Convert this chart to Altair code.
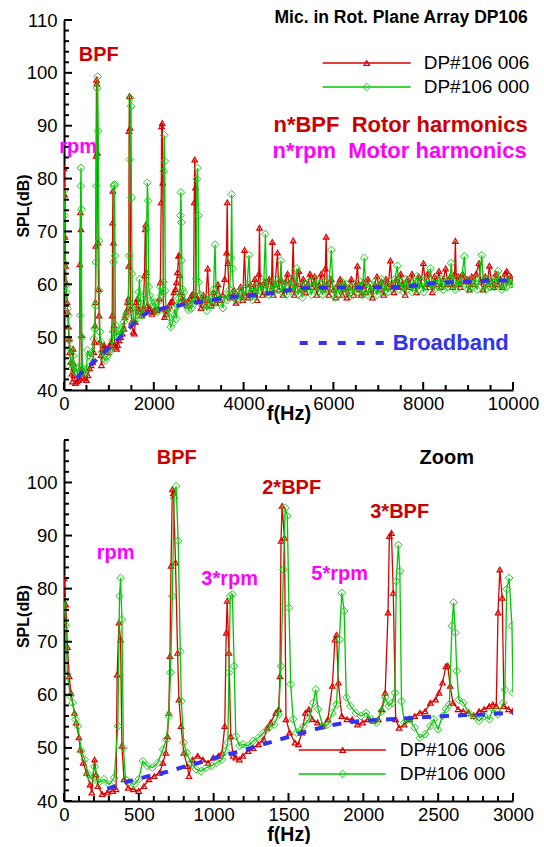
import altair as alt
import pandas as pd

FONT = "Liberation Sans"
RED = "#dd0000"
RED_TXT = "#cc0000"
GREEN = "#00c800"
GREEN_MK = "#22cc22"
MAGENTA = "#ff00ff"
BLUE = "#3333ee"

# ---------------- data: DP#106 006 (red) ----------------
red_f = [0, 12, 23, 35, 46, 70, 81, 100, 109, 128, 151, 174, 186, 204, 215, 227, 255, 290, 325, 348,
         355, 367, 378, 387, 401, 429, 464, 499, 534, 568, 603, 638, 661, 680, 691, 700, 708, 715, 724, 731,
         745, 759, 768, 782, 800, 824, 835, 858, 893, 928, 963, 998, 1032, 1056, 1074, 1084, 1090, 1102, 1114, 1130,
         1148, 1172, 1195, 1230, 1264, 1299, 1334, 1357, 1381, 1415, 1434, 1443, 1450, 1457, 1473, 1483, 1508, 1543, 1566, 1589,
         1613, 1636, 1659, 1694, 1729, 1763, 1793, 1810, 1821, 1833, 1856, 1891, 1926, 1961, 1995, 2030, 2065, 2100, 2123, 2146,
         2165, 2174, 2188, 2200, 2216, 2239, 2274, 2309, 2343, 2378, 2413, 2448, 2483, 2506, 2529, 2552, 2564, 2580, 2599, 2633,
         2668, 2703, 2738, 2773, 2807, 2842, 2865, 2888, 2900, 2912, 2928, 2940, 2970, 3000,
         3050, 3100, 3150, 3200, 3230, 3280, 3330, 3380, 3430, 3480, 3530, 3580, 3620, 3635, 3650, 3680, 3730, 3780, 3830, 3880,
         3930, 3980, 4021, 4050, 4100, 4150, 4200, 4250, 4300, 4340, 4354, 4370, 4420, 4470, 4520, 4570, 4620, 4640, 4660, 4700,
         4756, 4780, 4830, 4880, 4930, 4980, 5030, 5080, 5104, 5130, 5180, 5230, 5280, 5330, 5380, 5430, 5480, 5530, 5580, 5630,
         5680, 5730, 5780, 5820, 5839, 5860, 5900, 5950, 6000, 6050, 6100, 6150, 6200, 6250, 6300, 6350, 6400, 6450, 6500, 6535,
         6570, 6620, 6670, 6720, 6770, 6820, 6870, 6920, 6970, 7020, 7070, 7120, 7170, 7220, 7270, 7300, 7350, 7400, 7450, 7500,
         7550, 7600, 7650, 7700, 7750, 7800, 7850, 7900, 7950, 8005, 8050, 8100, 8150, 8200, 8250, 8300, 8350, 8400, 8450, 8500,
         8550, 8600, 8650, 8700, 8716, 8740, 8780, 8830, 8880, 8930, 8980, 9030, 9080, 9130, 9180, 9242, 9280, 9330, 9380, 9430,
         9474, 9520, 9570, 9620, 9670, 9720, 9770, 9820, 9861, 9900, 9950, 10000]
red_spl = [82, 77, 69, 63.5, 60.4, 56.6, 54.8, 52, 49.7, 47.2, 45.3, 43.1, 41.6, 47.8, 45, 42.8, 41.3, 41.6, 41.9, 42.2,
           63.8, 73.6, 70.4, 50.4, 44.1, 42.5, 42.2, 41.9, 42.8, 44.1, 44.7, 45.3, 47.2, 49.1, 52.2, 56.6, 67.3, 84.3, 98.7, 98,
           84.9, 67.9, 59.1, 54.1, 49.1, 46.6, 44.7, 47.8, 48.5, 47.8, 47.2, 48.2, 48.5, 49.1, 54.1, 71.7, 77.7, 67.9, 52.2, 48.5,
           48.2, 47.8, 48.5, 49.4, 50, 50.7, 51.6, 53.8, 54.8, 56.6, 57.3, 63.5, 89, 95.6, 89.6, 55.4, 52.9, 51, 50.7, 52.9,
           56.6, 57.3, 55.4, 54.8, 54.1, 55.4, 61.7, 70.4, 71.3, 62.3, 56, 55.4, 55.4, 54.4, 54.8, 55.4, 55.1, 55.4, 57.3, 60.4,
           75.5, 89.9, 90.5, 79.2, 55.4, 53.8, 54.4, 55.4, 56, 56.6, 56.9, 58.5, 59.1, 60.4, 62.3, 65.4, 65.5, 61.7, 58.5, 57.3,
           56.9, 56.6, 56, 56.9, 57.3, 57.9, 58.2, 57.9, 75.5, 83.6, 78.3, 57.9, 57.3, 57,
           55.5, 58, 56, 63, 57, 56, 58.5, 56.5, 60, 57, 58, 61, 66, 75.5, 64, 58, 57.5, 59, 56.5, 58,
           59.5, 57, 66.5, 58, 57.5, 60, 58, 61, 57, 62, 70.7, 60, 58, 60.5, 58.5, 61, 59, 68, 58, 60,
           66, 59, 61, 58, 60.5, 62, 59, 61, 68.3, 58, 60, 62.5, 59, 61, 58.5, 60, 62, 59.5, 61.5, 58,
           60, 62, 59, 63, 69, 60, 58, 61, 59, 57.5, 60, 61, 58, 60, 57.5, 59.5, 61, 58, 60, 63.5,
           59, 58, 60.5, 58.5, 61, 59, 57.5, 60, 61.5, 59, 60.5, 58, 61, 59.5, 64.5, 60, 58.5, 61, 59.5, 62,
           60, 58, 61, 59.5, 62, 60, 58.5, 61.5, 60, 64, 59.5, 62, 60, 58.5, 61.5, 60, 62.5, 59.5, 61, 63,
           60, 61.5, 59.5, 62, 68.2, 60, 61.5, 59.5, 62, 60.5, 61, 59, 61.5, 60, 62, 64, 60.5, 59, 61.5, 60,
           63.5, 60.5, 59.5, 62, 60, 61, 59.5, 62, 62.5, 60.5, 61.5, 60.5]

# ---------------- data: DP#106 000 (green) ----------------
green_f = [0, 12, 23, 42, 58, 77, 93, 116, 139, 162, 186, 204, 232, 267, 302, 336, 360, 371, 378, 387,
           397, 411, 434, 469, 499, 527, 557, 592, 626, 661, 684, 700, 712, 724, 735, 749, 763, 777, 784, 800,
           819, 847, 882, 916, 951, 986, 1021, 1056, 1079, 1095, 1102, 1111, 1125, 1137, 1148, 1172, 1195, 1230, 1264, 1299,
           1334, 1369, 1404, 1434, 1450, 1466, 1478, 1492, 1503, 1515, 1531, 1555, 1578, 1601, 1636, 1666, 1682, 1698, 1729, 1763,
           1793, 1821, 1840, 1856, 1872, 1886, 1914, 1949, 1984, 2019, 2053, 2088, 2123, 2146, 2169, 2193, 2211, 2220, 2234, 2244,
           2255, 2274, 2309, 2343, 2378, 2413, 2448, 2471, 2499, 2529, 2552, 2575, 2592, 2603, 2615, 2624, 2638, 2668, 2703, 2738,
           2773, 2807, 2842, 2865, 2900, 2935, 2946, 2958, 2974, 2993, 3000,
           3030, 3080, 3130, 3180, 3230, 3280, 3330, 3364, 3390, 3440, 3490, 3540, 3590, 3640, 3690, 3720, 3735, 3750, 3780, 3830,
           3880, 3930, 3980, 4030, 4080, 4122, 4150, 4200, 4250, 4300, 4350, 4400, 4450, 4486, 4510, 4560, 4610, 4660, 4710, 4760,
           4810, 4834, 4860, 4910, 4960, 5010, 5060, 5110, 5160, 5182, 5210, 5260, 5310, 5360, 5410, 5460, 5510, 5560, 5610, 5660,
           5710, 5760, 5810, 5860, 5910, 5955, 5990, 6040, 6090, 6140, 6190, 6240, 6290, 6340, 6390, 6440, 6490, 6540, 6590, 6640,
           6690, 6720, 6770, 6820, 6870, 6920, 6970, 7020, 7070, 7120, 7170, 7220, 7270, 7320, 7370, 7425, 7460, 7510, 7560, 7610,
           7660, 7710, 7760, 7810, 7860, 7910, 7960, 8010, 8060, 8110, 8159, 8200, 8250, 8300, 8350, 8400, 8450, 8500, 8550, 8600,
           8623, 8660, 8710, 8760, 8810, 8860, 8917, 8950, 9000, 9050, 9100, 9150, 9200, 9250, 9304, 9340, 9390, 9440, 9490, 9540,
           9590, 9640, 9667, 9700, 9750, 9800, 9850, 9900, 9950, 10000]
green_spl = [77.7, 73, 63.9, 59.8, 58.5, 55.4, 54.1, 49.4, 47.8, 45, 44.1, 46.5, 43.5, 44.1, 43.1, 44.4, 54.1, 78.6, 82, 74.2,
             50, 44.1, 43.5, 43.1, 44.1, 47.5, 46.6, 46.3, 47.2, 49.7, 51.6, 56, 64.2, 78.6, 97.1, 99.3, 89, 68.2, 58.8, 51,
             49.1, 47.2, 46, 45.6, 46.3, 46.6, 47.2, 47.8, 49.4, 51, 64.2, 78.6, 78.9, 65.4, 52.2, 50.4, 50.7, 50.4, 51.3, 51.9,
             52.9, 53.8, 54.4, 56.3, 65.4, 83.6, 95.2, 93.7, 76.4, 62, 55.4, 52.9, 53.2, 54.1, 55.4, 58.5, 61, 57.3, 54.1, 54.4,
             56.6, 58.2, 70.4, 79.2, 75.8, 59.5, 57.9, 56.6, 56, 56.6, 55.4, 54.8, 56.9, 59.5, 57.9, 58.5, 60.4, 81.4, 88.2, 83.3,
             58.8, 54.8, 55.4, 53.8, 51.9, 52.6, 54.1, 55.4, 53.5, 56, 57.3, 58.2, 73, 77.4, 71.7, 64.5, 59.1, 58.5, 56.6, 56,
             55.1, 56, 55.4, 57.3, 56.3, 58.5, 61, 79.9, 82, 73, 60.4,
             58, 56, 57.5, 55, 58, 56, 59, 67.5, 58, 56.5, 57.5, 55.5, 58, 57, 59, 65, 77, 63, 58, 57,
             58.5, 57, 59, 58, 60, 65.5, 58.5, 57, 59.5, 58, 60, 58.5, 60.5, 69.5, 59, 58, 60, 58.5, 61, 59,
             60.5, 64.5, 58.5, 60, 58, 59.5, 61, 58.5, 60, 63, 58, 59.5, 57.5, 60, 58.5, 60.5, 58, 59.5, 61, 58.5,
             60, 58, 60.5, 59, 61, 66.5, 59, 57.5, 59.5, 58, 60.5, 58.5, 60, 57.5, 59.5, 58, 60, 58.5, 60.5, 58,
             65, 59, 58, 60, 58.5, 60.5, 58, 59.5, 61, 58.5, 60, 58.5, 60.5, 59, 61, 63.5, 59, 60.5, 58.5, 61,
             59, 60.5, 58.5, 60, 61.5, 59, 60.5, 58.5, 61, 59.5, 63, 60, 59, 61, 59.5, 61, 59, 60.5, 59.5, 61,
             64, 60, 59, 61, 59.5, 61.5, 65.3, 60, 59, 61, 59.5, 61, 59, 61, 65.5, 60, 59, 61, 59.5, 61,
             59.5, 61, 62.5, 60, 59, 61, 59.5, 61, 60, 60]

# ---------------- data: broadband (blue dashed) ----------------
bb_f = [290, 440, 570, 690, 820, 940, 1055, 1180, 1310, 1430, 1550, 1660, 1790, 1920, 2060, 2175, 2300, 2420,
        2550, 2680, 2800, 2910, 3000, 3700, 4500, 5000, 5300, 5750, 6600, 7400, 7800, 8200, 8650, 9050, 9450,
        9800, 10000]
bb_spl = [42.3, 43.8, 44.7, 45.5, 46.6, 47.5, 48.5, 49.4, 50.5, 51.5, 52.5, 53.4, 54.3, 54.9, 55.2, 55.4, 55.6,
          55.8, 56.0, 56.2, 56.3, 56.5, 56.6, 57.6, 58.2, 58.9, 59.3, 59.35, 59.4, 59.5, 59.7, 60.2, 60.4, 60.5,
          60.7, 60.7, 60.7]

series_names = ["DP#106 006", "DP#106 000"]

# axis tick values
top_x_labels = [0, 2000, 4000, 6000, 8000, 10000]
top_x_minor = list(range(0, 10001, 500))
top_y_labels = [40, 50, 60, 70, 80, 90, 100, 110]
top_y_minor = list(range(40, 111, 2))
bot_x_labels = [0, 500, 1000, 1500, 2000, 2500, 3000]
bot_x_minor = list(range(0, 3001, 100))
bot_y_labels = [40, 50, 60, 70, 80, 90, 100]
bot_y_minor = list(range(40, 109, 2))

red_df = pd.DataFrame({"f": red_f, "spl": red_spl})
green_df = pd.DataFrame({"f": green_f, "spl": green_spl})
bb_df = pd.DataFrame({"f": bb_f, "spl": bb_spl})
dummy = pd.DataFrame({"a": [0]})

TRI_SIZE = 30
DIA_SIZE = 60


def txt(label, x, y, color, size, align="center", weight="bold"):
    return alt.Chart(dummy).mark_text(
        text=label, font=FONT, fontSize=size, fontWeight=weight, color=color,
        align=align, baseline="middle"
    ).encode(x=alt.value(x), y=alt.value(y))


def legend_items(x0, x1, xm, ys, lx):
    layers = []
    specs = [(RED, RED, "triangle-up", TRI_SIZE, 1.2), (GREEN, GREEN_MK, "diamond", DIA_SIZE, 1.0)]
    for (col, mcol, shp, sz, sw), yy, name in zip(specs, ys, series_names):
        layers.append(alt.Chart(dummy).mark_rule(color=col, strokeWidth=1.5).encode(
            x=alt.value(x0), x2=alt.value(x1), y=alt.value(yy)))
        layers.append(alt.Chart(dummy).mark_point(shape=shp, size=sz, filled=False, strokeWidth=sw,
                                                  color=mcol, opacity=1).encode(
            x=alt.value(xm), y=alt.value(yy)))
        layers.append(txt(name, lx, yy, "black", 19, align="left", weight="normal"))
    return layers


def panel(xmax, ymax, w, h, xlab, xminor, xmajor_step, ylab, yminor, title_y, title_size, ytitle_y, extra):
    xs = alt.Scale(domain=[0, xmax], nice=False, zero=False)
    ys = alt.Scale(domain=[40, ymax], nice=False, zero=False)
    xaxis = alt.Axis(values=xlab, ticks=False, tickSize=0, grid=False, labelFont=FONT, labelFontSize=18.5,
                     labelColor="black", labelPadding=4, labelFlush=False, labelOverlap=False, format="d",
                     domainColor="black", domainWidth=2, title="f(Hz)", titleFont=FONT, titleFontSize=title_size,
                     titleFontWeight="bold", titleColor="black", titleY=title_y, titleX=w / 2,
                     titleBaseline="middle", titleAlign="center")
    yaxis = alt.Axis(values=ylab, ticks=False, tickSize=0, grid=False, labelFont=FONT, labelFontSize=18.5,
                     labelColor="black", labelPadding=7, labelFlush=False, labelOverlap=False, format="d",
                     domainColor="black", domainWidth=2, title="SPL(dB)", titleFont=FONT, titleFontSize=16,
                     titleFontWeight="bold", titleColor="black", titleAngle=270, titleX=-41, titleY=ytitle_y,
                     titleBaseline="middle", titleAlign="center")

    def X(field):
        return alt.X(field, scale=xs, axis=xaxis, title="f(Hz)")

    def Y(field):
        return alt.Y(field, scale=ys, axis=yaxis, title="SPL(dB)")

    rd = red_df[red_df.f <= xmax]
    gd = green_df[green_df.f <= xmax]
    bd = bb_df[bb_df.f <= xmax]
    red_line = alt.Chart(rd).mark_line(color=RED, strokeWidth=1.3, clip=True).encode(x=X("f:Q"), y=Y("spl:Q"))
    red_pts = alt.Chart(rd).mark_point(shape="triangle-up", size=TRI_SIZE, filled=False, strokeWidth=1.2,
                                       color=RED, opacity=1, clip=True).encode(x=X("f:Q"), y=Y("spl:Q"))
    green_line = alt.Chart(gd).mark_line(color=GREEN, strokeWidth=1.3, clip=True).encode(x=X("f:Q"), y=Y("spl:Q"))
    green_pts = alt.Chart(gd).mark_point(shape="diamond", size=DIA_SIZE, filled=False, strokeWidth=1.0,
                                         color=GREEN_MK, opacity=1, clip=True).encode(x=X("f:Q"), y=Y("spl:Q"))
    bb_line = alt.Chart(bd).mark_line(color=BLUE, strokeWidth=4, strokeDash=[9, 9], clip=True).encode(
        x=X("f:Q"), y=Y("spl:Q"))

    xmaj = pd.DataFrame({"f": [v for v in xminor if v % xmajor_step == 0]})
    xmin = pd.DataFrame({"f": [v for v in xminor if v % xmajor_step != 0]})
    ymaj = pd.DataFrame({"spl": [v for v in yminor if v % 10 == 0]})
    ymin = pd.DataFrame({"spl": [v for v in yminor if v % 10 != 0]})
    tick_layers = [
        alt.Chart(xmaj).mark_rule(color="black", strokeWidth=2).encode(
            x=X("f:Q"), y=alt.value(h), y2=alt.value(h - 8)),
        alt.Chart(xmin).mark_rule(color="black", strokeWidth=2).encode(
            x=X("f:Q"), y=alt.value(h), y2=alt.value(h - 5)),
        alt.Chart(ymaj).mark_rule(color="black", strokeWidth=2).encode(
            y=Y("spl:Q"), x=alt.value(0), x2=alt.value(8)),
        alt.Chart(ymin).mark_rule(color="black", strokeWidth=2).encode(
            y=Y("spl:Q"), x=alt.value(0), x2=alt.value(5)),
    ]
    return alt.layer(red_line, red_pts, green_line, green_pts, bb_line, *tick_layers, *extra).properties(
        width=w, height=h)


# ---------------- annotations ----------------
top_extra = [
    txt("Mic. in Rot. Plane Array DP106", 463.7, -2, "black", 17.5, align="right"),
    txt("BPF", 34.7, 35, RED_TXT, 20),
    txt("n*BPF\u00a0\u00a0Rotor harmonics", 463.7, 105, RED_TXT, 22, align="right"),
    txt("n*rpm\u00a0\u00a0Motor harmonics", 462.7, 131, MAGENTA, 22, align="right"),
    txt("rpm", 14.2, 127, MAGENTA, 20),
    alt.Chart(dummy).mark_rule(color=BLUE, strokeWidth=4, strokeDash=[8, 11]).encode(
        x=alt.value(235.7), x2=alt.value(319.7), y=alt.value(323)),
    txt("Broadband", 328.7, 323, BLUE, 22, align="left"),
] + legend_items(258.7, 346.7, 302.7, [43, 67], 359.7)

bot_extra = [
    txt("BPF", 112.7, 18, RED_TXT, 20),
    txt("2*BPF", 227.7, 48, RED_TXT, 20),
    txt("3*BPF", 335.7, 72, RED_TXT, 20),
    txt("rpm", 51.7, 113, MAGENTA, 20),
    txt("3*rpm", 165.7, 139, MAGENTA, 20),
    txt("5*rpm", 275.7, 134, MAGENTA, 20),
    txt("Zoom", 382.7, 18, "black", 20),
] + legend_items(234.7, 321.7, 278.7, [310, 334], 335.7)

top = panel(10000, 110, 449, 370, top_x_labels, top_x_minor, 2000, top_y_labels, top_y_minor, 23, 20, 185.5,
            top_extra)
bottom = panel(3000, 108, 449, 361, bot_x_labels, bot_x_minor, 500, bot_y_labels, bot_y_minor, 33, 19.5, 176,
               bot_extra)

chart = alt.vconcat(top, bottom, spacing=16).properties(
    padding={"left": 15, "top": 9, "right": 0, "bottom": 0}, background="white"
).configure_view(stroke=None)

chart.save("out.html", embed_options={"renderer": "svg", "actions": False})
